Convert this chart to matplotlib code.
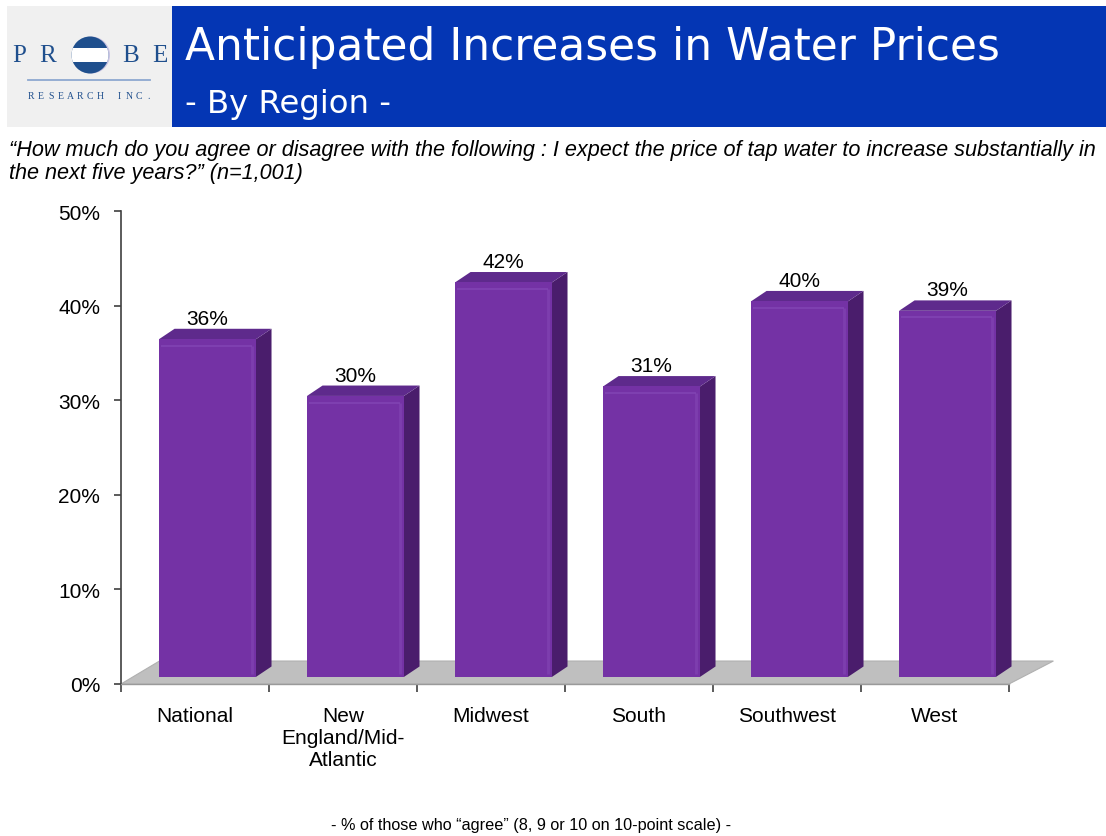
import matplotlib
matplotlib.use("Agg")
import matplotlib.pyplot as plt
from matplotlib.patches import Polygon, Rectangle, Circle
import numpy as np

categories = ["National", "New\nEngland/Mid-\nAtlantic", "Midwest", "South", "Southwest", "West"]
values = [36, 30, 42, 31, 40, 39]
ytick_vals = [0, 10, 20, 30, 40, 50]
ytick_labels = ["0%", "10%", "20%", "30%", "40%", "50%"]

title = "Anticipated Increases in Water Prices"
subtitle = "- By Region -"
question_lines = ["\u201cHow much do you agree or disagree with the following : I expect the price of tap water to increase substantially in",
                  "the next five years?\u201d (n=1,001)"]
footnote = "- % of those who \u201cagree\u201d (8, 9 or 10 on 10-point scale) -"

W, H = 1106, 837
fig = plt.figure(figsize=(W / 100, H / 100), dpi=100)
fig.patch.set_facecolor("white")

# ---------- header / background layer (pixel coords) ----------
bg = fig.add_axes([0, 0, 1, 1])
bg.set_xlim(0, W)
bg.set_ylim(H, 0)
bg.axis("off")

bg.add_patch(Rectangle((7, 7), 165, 121, facecolor="#f0f0f0", edgecolor="none"))
bg.add_patch(Rectangle((172, 7), W - 172, 121, facecolor="#0436b4", edgecolor="none"))

# logo
logo_blue = "#1f4f8d"
for ch, x in [("P", 19), ("R", 48), ("B", 131), ("E", 160)]:
    bg.text(x, 56, ch, ha="center", va="center", fontsize=18, color=logo_blue,
            family="Liberation Serif")
cx, cy, r = 90, 56, 18.5
bg.add_patch(Circle((cx + 1.5, cy), r, facecolor="#c9c3e3", edgecolor="none"))
circ = Circle((cx, cy), r, facecolor=logo_blue, edgecolor="none")
bg.add_patch(circ)
band = Rectangle((cx - r - 2, cy - 7.5), 2 * r + 2, 14, facecolor="white", edgecolor="none")
bg.add_patch(band)
band.set_clip_path(circ)
bg.plot([28, 150], [81, 81], color="#8ea8d0", lw=1.3)
logo_sub = "RESEARCH INC."
xs = np.linspace(31, 149, len(logo_sub))
for ch, x in zip(logo_sub, xs):
    bg.text(x, 96, ch, ha="center", va="center", fontsize=7, color=logo_blue,
            family="Liberation Serif")

# title
t = bg.text(185, 47, title, ha="left", va="center", color="white", family="DejaVu Sans", fontsize=34)
fig.canvas.draw()
bb = t.get_window_extent()
t.set_fontsize(34 * 815 / bb.width)
bg.text(185, 104, subtitle, ha="left", va="center", color="white", family="DejaVu Sans", fontsize=23.3)

q1 = bg.text(9, 150, question_lines[0], ha="left", va="center", fontsize=13.3, style="italic",
             family="Liberation Sans", color="black")
fig.canvas.draw()
qs = 13.3 * 1090 / q1.get_window_extent().width
q1.set_fontsize(qs)
bg.text(9, 173, question_lines[1], ha="left", va="center", fontsize=qs, style="italic",
        family="Liberation Sans", color="black")
bg.text(531, 826, footnote, ha="center", va="center", fontsize=11.7,
        family="Liberation Sans", color="black")

# ---------- chart ----------
ax = fig.add_axes([121 / W, (H - 685) / H, 888 / W, 473 / H])
ax.set_xlim(0, 6)
ax.set_ylim(0, 50)
ax.patch.set_alpha(0)
for s in ["top", "right"]:
    ax.spines[s].set_visible(False)
ax.spines["left"].set_color("#404040")
ax.spines["left"].set_linewidth(1.2)
ax.spines["bottom"].set_color("#9a9a9a")
ax.spines["bottom"].set_linewidth(1.0)

ax.set_yticks(ytick_vals)
ax.set_yticklabels(ytick_labels, fontsize=15, family="Liberation Sans")
ax.tick_params(axis="y", direction="out", length=5, color="#404040", width=1.2, pad=10)

ax.set_xticks(np.arange(0, 7))
ax.set_xticklabels([])
ax.tick_params(axis="x", which="major", direction="out", length=6, color="#404040", width=1.2)
ax.set_xticks(np.arange(len(categories)) + 0.5, minor=True)
ax.set_xticklabels(categories, minor=True, fontsize=15, family="Liberation Sans", linespacing=1.2)
ax.tick_params(axis="x", which="minor", length=0, pad=16)

# floor
ddx, ddy = 0.28, 2.43
floor = Polygon([(0, 0), (6, 0), (6 + ddx + 0.02, ddy), (ddx - 0.02, ddy)], closed=True,
                facecolor="#bfbfbf", edgecolor="#b0b0b0", lw=0.8, clip_on=False, zorder=1)
ax.add_patch(floor)

front_c = "#7432a5"
side_c = "#4a1d6c"
top_c = "#5e2a8c"
hl_c = "#8b52be"
bw = 0.655
sx, sy = 0.105, 1.1
for i, v in enumerate(values):
    x0 = i + 0.257
    x1 = x0 + bw
    y0 = 0.75
    y1 = v + 0.45
    ax.add_patch(Polygon([(x1, y0), (x1 + sx, y0 + sy), (x1 + sx, y1 + sy), (x1, y1)], closed=True,
                         facecolor=side_c, edgecolor="none", clip_on=False, zorder=3))
    ax.add_patch(Polygon([(x0, y1), (x0 + sx, y1 + sy), (x1 + sx, y1 + sy), (x1, y1)], closed=True,
                         facecolor=top_c, edgecolor="none", clip_on=False, zorder=3))
    ax.add_patch(Rectangle((x0, y0), bw, y1 - y0, facecolor=front_c, edgecolor="none",
                           clip_on=False, zorder=4))
    ax.plot([x0 + 0.01, x1 - 0.03], [y1 - 0.7, y1 - 0.7], color=hl_c, lw=1.5, alpha=0.45,
            solid_capstyle="butt", zorder=5, clip_on=False)
    ax.plot([x1 - 0.03, x1 - 0.03], [y0 + 0.3, y1 - 0.7], color=hl_c, lw=2.0, alpha=0.4,
            solid_capstyle="butt", zorder=5, clip_on=False)
    ax.text(x0 + bw / 2, v + 2.65, f"{v}%", ha="center", va="center", fontsize=15,
            family="Liberation Sans", color="black", zorder=6, clip_on=False)

fig.savefig("out.png", dpi=100)
